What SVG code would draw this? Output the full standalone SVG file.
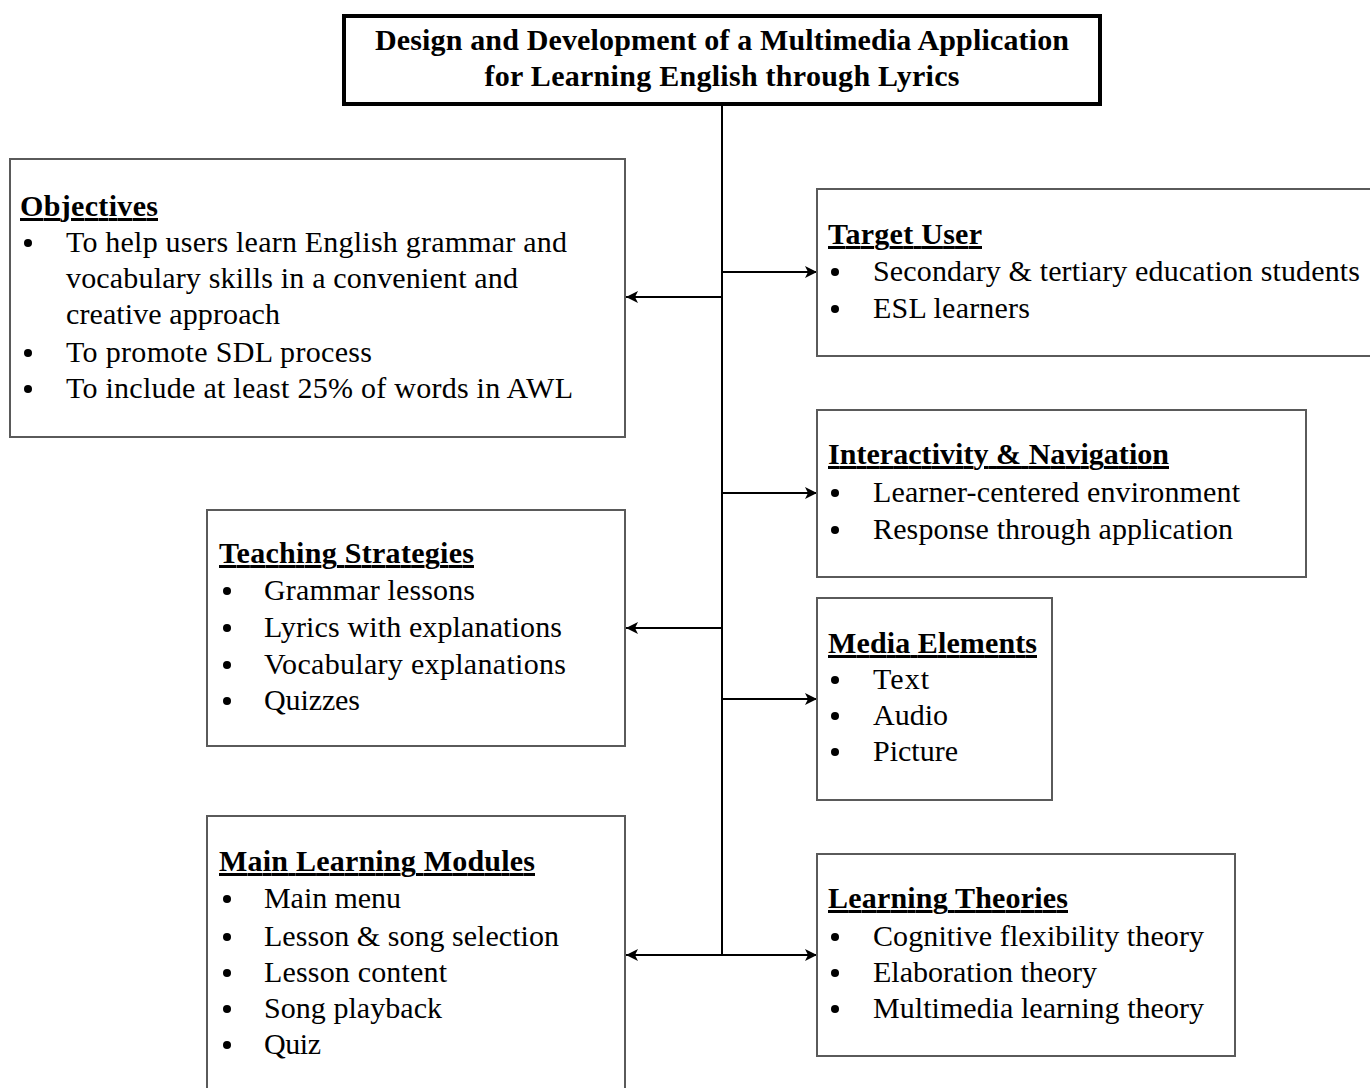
<svg xmlns="http://www.w3.org/2000/svg" width="1370" height="1088" viewBox="0 0 1370 1088">
<style>
.box{fill:#fff;stroke:#5a5a5a;stroke-width:2}
.tbox{fill:#fff;stroke:#000;stroke-width:4}
text{font-family:"Liberation Serif","Times New Roman",serif;font-size:30px;fill:#000}
.t{font-weight:bold;text-anchor:middle}
.h{font-weight:bold;text-decoration:underline}
.b{fill:#000}
.c{stroke:#000;stroke-width:2;fill:none}
</style>
<defs>
<marker id="ah" viewBox="0 0 12 12" refX="12" refY="6" markerWidth="12" markerHeight="12" markerUnits="userSpaceOnUse" orient="auto-start-reverse">
<path d="M0,0 L12,6 L0,12 L3,6 Z" fill="#000"/>
</marker>
</defs>
<rect width="1370" height="1088" fill="#fff"/>
<g id="connectors">
<line class="c" x1="722" y1="104" x2="722" y2="955"/>
<line class="c" x1="722" y1="297" x2="626" y2="297" marker-end="url(#ah)"/>
<line class="c" x1="722" y1="272" x2="817" y2="272" marker-end="url(#ah)"/>
<line class="c" x1="722" y1="493" x2="817" y2="493" marker-end="url(#ah)"/>
<line class="c" x1="722" y1="628" x2="626" y2="628" marker-end="url(#ah)"/>
<line class="c" x1="722" y1="699" x2="817" y2="699" marker-end="url(#ah)"/>
<line class="c" x1="626" y1="955" x2="817" y2="955" marker-start="url(#ah)" marker-end="url(#ah)"/>
</g>
<g id="title">
<rect class="tbox" x="344" y="16" width="756" height="88"/>
<text class="t" x="722" y="50" textLength="694">Design and Development of a Multimedia Application</text>
<text class="t" x="722" y="86" textLength="475">for Learning English through Lyrics</text>
</g>
<g id="objectives">
<rect class="box" x="10" y="159" width="615" height="278"/>
<text class="h" x="20" y="216" textLength="138">Objectives</text>
<circle class="b" cx="28" cy="243" r="4"/>
<circle class="b" cx="28" cy="353" r="4"/>
<circle class="b" cx="28" cy="389" r="4"/>
<text x="66" y="252" textLength="501">To help users learn English grammar and</text>
<text x="66" y="288" textLength="452">vocabulary skills in a convenient and</text>
<text x="66" y="324" textLength="214">creative approach</text>
<text x="66" y="362" textLength="306">To promote SDL process</text>
<text x="66" y="398" textLength="507">To include at least 25% of words in AWL</text>
</g>
<g id="target-user">
<rect class="box" x="817" y="189" width="560" height="167"/>
<text class="h" x="828" y="244" textLength="154">Target User</text>
<circle class="b" cx="835" cy="272" r="4"/>
<circle class="b" cx="835" cy="309" r="4"/>
<text x="873" y="281" textLength="487">Secondary &amp; tertiary education students</text>
<text x="873" y="318" textLength="157">ESL learners</text>
</g>
<g id="interactivity">
<rect class="box" x="817" y="410" width="489" height="167"/>
<text class="h" x="828" y="464" textLength="341">Interactivity &amp; Navigation</text>
<circle class="b" cx="835" cy="493" r="4"/>
<circle class="b" cx="835" cy="530" r="4"/>
<text x="873" y="502" textLength="367">Learner-centered environment</text>
<text x="873" y="539" textLength="360">Response through application</text>
</g>
<g id="teaching-strategies">
<rect class="box" x="207" y="510" width="418" height="236"/>
<text class="h" x="219" y="563" textLength="255">Teaching Strategies</text>
<circle class="b" cx="227" cy="591" r="4"/>
<circle class="b" cx="227" cy="628" r="4"/>
<circle class="b" cx="227" cy="665" r="4"/>
<circle class="b" cx="227" cy="701" r="4"/>
<text x="264" y="600" textLength="211">Grammar lessons</text>
<text x="264" y="637" textLength="298">Lyrics with explanations</text>
<text x="264" y="674" textLength="302">Vocabulary explanations</text>
<text x="264" y="710" textLength="96">Quizzes</text>
</g>
<g id="media-elements">
<rect class="box" x="817" y="598" width="235" height="202"/>
<text class="h" x="828" y="653" textLength="209">Media Elements</text>
<circle class="b" cx="835" cy="680" r="4"/>
<circle class="b" cx="835" cy="716" r="4"/>
<circle class="b" cx="835" cy="752" r="4"/>
<text x="873" y="689" textLength="56">Text</text>
<text x="873" y="725" textLength="75">Audio</text>
<text x="873" y="761" textLength="85">Picture</text>
</g>
<g id="main-learning-modules">
<rect class="box" x="207" y="816" width="418" height="280"/>
<text class="h" x="219" y="871" textLength="316">Main Learning Modules</text>
<circle class="b" cx="227" cy="899" r="4"/>
<circle class="b" cx="227" cy="937" r="4"/>
<circle class="b" cx="227" cy="973" r="4"/>
<circle class="b" cx="227" cy="1009" r="4"/>
<circle class="b" cx="227" cy="1045" r="4"/>
<text x="264" y="908" textLength="137">Main menu</text>
<text x="264" y="946" textLength="295">Lesson &amp; song selection</text>
<text x="264" y="982" textLength="183">Lesson content</text>
<text x="264" y="1018" textLength="178">Song playback</text>
<text x="264" y="1054" textLength="57">Quiz</text>
</g>
<g id="learning-theories">
<rect class="box" x="817" y="854" width="418" height="202"/>
<text class="h" x="828" y="908" textLength="240">Learning Theories</text>
<circle class="b" cx="835" cy="937" r="4"/>
<circle class="b" cx="835" cy="973" r="4"/>
<circle class="b" cx="835" cy="1009" r="4"/>
<text x="873" y="946" textLength="331">Cognitive flexibility theory</text>
<text x="873" y="982" textLength="224">Elaboration theory</text>
<text x="873" y="1018" textLength="331">Multimedia learning theory</text>
</g>
</svg>
